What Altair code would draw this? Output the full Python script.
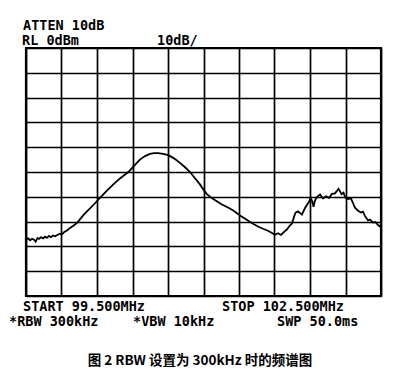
import altair as alt
import pandas as pd

# Trace (frequency in MHz, level in dBm)
freq_mhz = [
    99.500, 99.517, 99.534, 99.551, 99.568, 99.582, 99.597, 99.610, 99.627, 99.644,
    99.661, 99.677, 99.694, 99.711, 99.728, 99.745, 99.765, 99.787, 99.804, 99.821,
    99.849, 99.872, 99.897, 99.934, 99.961, 99.990, 100.015, 100.041, 100.083, 100.125,
    100.182, 100.238, 100.294, 100.365, 100.413, 100.463, 100.506, 100.548, 100.582, 100.618,
    100.658, 100.703, 100.751, 100.801, 100.844, 100.886, 100.928, 100.970, 100.998, 101.027,
    101.063, 101.112, 101.156, 101.207, 101.258, 101.308, 101.359, 101.410, 101.461, 101.503,
    101.545, 101.579, 101.604, 101.630, 101.655, 101.680, 101.706, 101.731, 101.748, 101.765,
    101.778, 101.799, 101.815, 101.832, 101.858, 101.875, 101.892, 101.904, 101.917, 101.930,
    101.942, 101.959, 101.985, 102.010, 102.035, 102.061, 102.086, 102.111, 102.128, 102.141,
    102.154, 102.166, 102.183, 102.200, 102.221, 102.246, 102.263, 102.280, 102.306, 102.331,
    102.348, 102.365, 102.390, 102.407, 102.432, 102.454, 102.475, 102.500,
]
level_dbm = [
    -77.4, -76.7, -77.5, -76.9, -77.3, -78.1, -76.6, -77.0, -76.3, -76.8,
    -76.1, -76.6, -75.8, -76.3, -75.6, -75.9, -75.4, -74.9, -75.2, -74.3,
    -73.5, -72.6, -71.8, -70.4, -68.8, -67.1, -65.9, -64.7, -62.6, -60.4,
    -57.6, -55.0, -52.6, -50.0, -47.5, -45.0, -43.6, -42.7, -42.4, -42.4,
    -42.7, -43.2, -44.5, -46.3, -48.1, -50.0, -52.5, -55.0, -57.0, -58.8,
    -60.3, -61.8, -63.1, -64.3, -65.7, -67.5, -69.1, -70.7, -72.0, -72.9,
    -73.7, -74.6, -75.3, -74.7, -75.4, -74.2, -73.1, -71.5, -70.8, -68.0,
    -66.4, -65.9, -66.5, -67.2, -64.5, -63.2, -62.0, -60.6, -61.5, -64.0,
    -61.5, -60.0, -59.1, -60.7, -59.8, -60.4, -58.8, -58.6, -57.6, -56.8,
    -57.8, -58.9, -58.3, -60.4, -60.9, -60.6, -62.5, -64.4, -65.6, -66.3,
    -66.0, -67.8, -69.5, -69.2, -70.4, -70.2, -71.4, -72.3,
]

# Graticule: 10 divisions each way
x_grid = [99.5, 99.8, 100.1, 100.4, 100.7, 101.0, 101.3, 101.6, 101.9, 102.2, 102.5]
y_grid = [-100, -90, -80, -70, -60, -50, -40, -30, -20, -10, 0]

# Annotation texts
txt_atten = "ATTEN 10dB"
txt_rl = "RL 0dBm"
txt_scale = "10dB/"
txt_start = "START 99.500MHz"
txt_stop = "STOP 102.500MHz"
txt_rbw = "*RBW 300kHz"
txt_vbw = "*VBW 10kHz"
txt_swp = "SWP 50.0ms"
caption = "图 2 RBW 设置为 300kHz 时的频谱图"

df = pd.DataFrame({"f": freq_mhz, "p": level_dbm})

xs = alt.Scale(domain=[99.5, 102.5], nice=False, zero=False)
ys = alt.Scale(domain=[-100, 0], nice=False, zero=False)

base = alt.Chart(df)

trace = base.mark_line(color="black", strokeWidth=1.8, clip=True).encode(
    x=alt.X("f:Q", scale=xs,
            axis=alt.Axis(values=x_grid, grid=True, labels=False, ticks=False,
                          domain=False, title=None, gridColor="black",
                          gridWidth=1.7, gridOpacity=1)),
    y=alt.Y("p:Q", scale=ys,
            axis=alt.Axis(values=y_grid, grid=True, labels=False, ticks=False,
                          domain=False, title=None, gridColor="black",
                          gridWidth=1.7, gridOpacity=1)),
)

mono = dict(font="DejaVu Sans Mono", fontSize=13.5, fontWeight="bold",
            color="black", align="left", baseline="alphabetic")


def label(text, x, y, **kw):
    style = dict(mono)
    style.update(kw)
    return alt.Chart(pd.DataFrame({"t": [text]})).mark_text(**style).encode(
        text="t:N", x=alt.value(x), y=alt.value(y))


texts = [
    label(txt_atten, -3, -18),
    label(txt_rl, -4, -3),
    label(txt_scale, 131, -3),
    label(txt_start, -3, 263),
    label(txt_stop, 196, 263),
    label(txt_rbw, -17, 278),
    label(txt_vbw, 107, 278),
    label(txt_swp, 251, 278),
    label(caption, 174, 317, font="Noto Sans CJK SC", fontSize=13.5,
          fontWeight="bold", align="center"),
]

chart = alt.layer(trace, *texts).properties(
    width=355, height=248,
    autosize=alt.AutoSizeParams(type="none"),
    padding={"left": 18, "top": 40, "right": 10, "bottom": 80},
    background="white",
).configure_view(stroke="black", strokeWidth=2.2)

chart.save("out.html", embed_options={"renderer": "svg", "actions": False})
